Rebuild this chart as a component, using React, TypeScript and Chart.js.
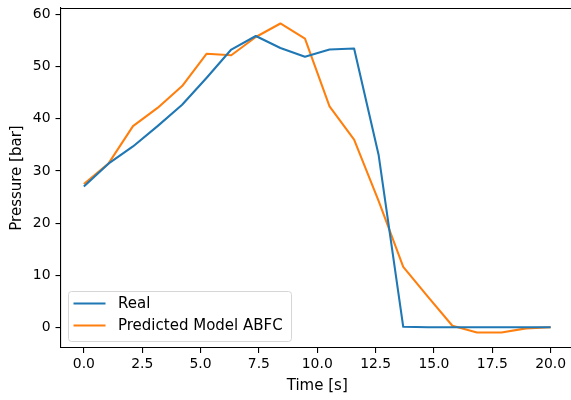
import React, { useEffect, useRef } from "react";
import { Chart, registerables } from "chart.js";

Chart.register(...registerables);

const timeValues = [0, 1.053, 2.105, 3.158, 4.211, 5.263, 6.316, 7.368, 8.421, 9.474, 10.526, 11.579, 12.632, 13.684, 14.737, 15.789, 16.842, 17.895, 18.947, 20.0];
const realValues = [27.0, 31.4, 34.7, 38.6, 42.7, 47.9, 53.3, 55.9, 53.6, 51.9, 53.3, 53.5, 33.0, 0.1, 0.0, 0.0, 0.0, 0.0, 0.0, 0.0];
const predictedValues = [27.5, 31.4, 38.6, 42.1, 46.3, 52.5, 52.2, 55.7, 58.3, 55.4, 42.4, 36.0, 24.2, 11.6, 5.9, 0.3, -1.0, -1.0, -0.2, 0.0];
const xTicks = [0, 2.5, 5, 7.5, 10, 12.5, 15, 17.5, 20];
const yTicks = [0, 10, 20, 30, 40, 50, 60];
const seriesLabels = ["Real", "Predicted Model ABFC"];
const seriesColors = ["#1f77b4", "#ff7f0e"];
const xRange = [-1, 21];
const yRange = [-3.97, 61.27];

const FONT = "DejaVu Sans";
const FS = 13.9;
const FS_TEXT = 15;

const framePlugin = {
  id: "frame",
  afterDraw(chart: any) {
    const { ctx, chartArea } = chart;
    ctx.save();
    ctx.strokeStyle = "#000";
    ctx.lineWidth = 1.2;
    ctx.beginPath();
    const ty = Math.round(chartArea.top) + 0.5;
    ctx.moveTo(chartArea.left, ty);
    ctx.lineTo(chartArea.right, ty);
    ctx.lineTo(chartArea.right, chartArea.bottom);
    ctx.stroke();
    // legend
    const x = 68.5, y = 291.5, w = 223, h = 50, r = 3;
    ctx.beginPath();
    ctx.roundRect(x, y, w, h, r);
    ctx.fillStyle = "rgba(255,255,255,0.8)";
    ctx.fill();
    ctx.strokeStyle = "#d6d6d6";
    ctx.lineWidth = 1;
    ctx.stroke();
    const rows = [303.5, 325.5];
    chart.data.datasets.forEach((ds: any, i: number) => {
      ctx.beginPath();
      ctx.strokeStyle = ds.borderColor;
      ctx.lineWidth = 2.08;
      ctx.moveTo(73.5, rows[i]);
      ctx.lineTo(105.5, rows[i]);
      ctx.stroke();
      ctx.fillStyle = "#000";
      ctx.font = `${FS_TEXT}px "${FONT}"`;
      ctx.textBaseline = "middle";
      ctx.textAlign = "left";
      ctx.fillText(ds.label, 118, rows[i] + 0.5);
    });
    ctx.restore();
  },
};

export default function App() {
  const ref = useRef<HTMLCanvasElement>(null);
  useEffect(() => {
    if (!ref.current) return;
    const tickFont = { family: FONT, size: FS };
    const titleFont = { family: FONT, size: FS_TEXT };
    const chart = new Chart(ref.current, {
      type: "line",
      data: {
        datasets: [realValues, predictedValues].map((vals, i) => ({
          label: seriesLabels[i],
          data: vals.map((v, j) => ({ x: timeValues[j], y: v })),
          borderColor: seriesColors[i],
          backgroundColor: seriesColors[i],
          borderWidth: 2.08,
          pointRadius: 0,
          tension: 0,
          borderJoinStyle: "round" as const,
          fill: false,
        })),
      },
      options: {
        animation: false,
        responsive: false,
        layout: { padding: { top: 8, right: 2, left: 0, bottom: 0 } },
        plugins: { legend: { display: false }, tooltip: { enabled: false } },
        scales: {
          x: {
            type: "linear",
            min: xRange[0],
            max: xRange[1],
            afterBuildTicks: (s: any) => { s.ticks = xTicks.map((v) => ({ value: v })); },
            afterFit: (s: any) => { s.height = 52; s.paddingLeft = 0; s.paddingRight = 0; },
            grid: { drawOnChartArea: false, drawTicks: true, tickLength: 5, color: "#000", lineWidth: 1.1 },
            border: { display: true, color: "#000", width: 1.1 },
            ticks: { color: "#000", font: tickFont, padding: 3, maxRotation: 0, autoSkip: false, callback: (v: any) => Number(v).toFixed(1) },
            title: { display: true, text: "Time [s]", color: "#000", font: titleFont, padding: { top: 0, bottom: 4.5 } },
          },
          y: {
            type: "linear",
            min: yRange[0],
            max: yRange[1],
            afterBuildTicks: (s: any) => { s.ticks = yTicks.map((v) => ({ value: v })); },
            afterFit: (s: any) => { s.width = 60.5; s.paddingTop = 0; s.paddingBottom = 0; },
            grid: { drawOnChartArea: false, drawTicks: true, tickLength: 5, color: "#000", lineWidth: 1.1 },
            border: { display: true, color: "#000", width: 1.1 },
            ticks: { color: "#000", font: tickFont, padding: 5, autoSkip: false, callback: (v: any) => String(v) },
            title: { display: true, text: "Pressure [bar]", color: "#000", font: titleFont, padding: { top: 8, bottom: 0 } },
          },
        },
      },
      plugins: [framePlugin],
    });
    return () => chart.destroy();
  }, []);
  return (
    <div style={{ position: "fixed", left: 0, top: 0, width: 571, height: 400, overflow: "hidden", background: "#fff" }}>
      <canvas ref={ref} width={576} height={400} style={{ display: "block" }} />
    </div>
  );
}
